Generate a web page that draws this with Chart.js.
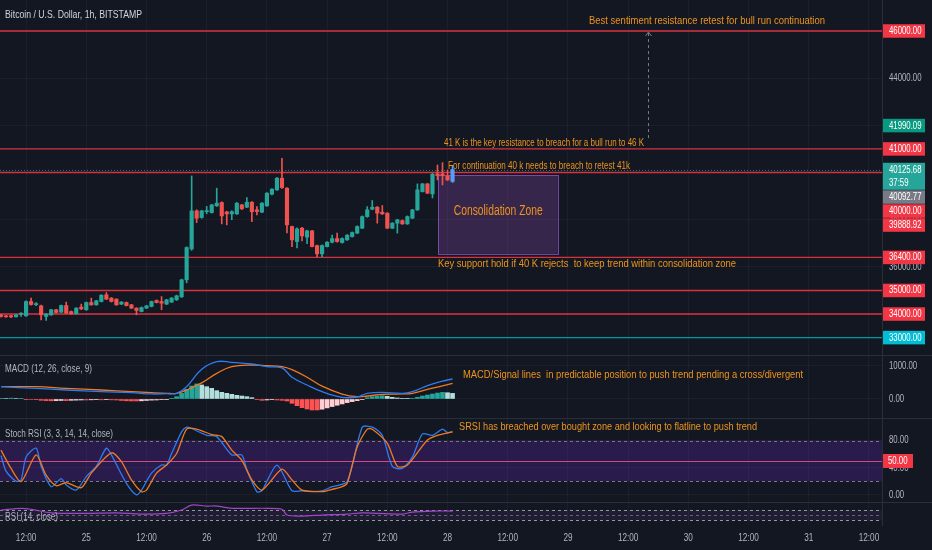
<!DOCTYPE html>
<html>
<head>
<meta charset="utf-8">
<title>BTCUSD 1h</title>
<script src="https://cdn.jsdelivr.net/npm/chart.js@4.4.1/dist/chart.umd.min.js"></script>
<style>
  html, body { margin: 0; padding: 0; background: #131722; overflow: hidden; }
  #wrap { position: relative; width: 932px; height: 550px; }
  #wrap canvas { position: absolute; left: 0; }
</style>
</head>
<body>
<div id="wrap">
  <canvas id="priceChart" width="932" height="355" style="top:0"></canvas>
  <canvas id="macdChart" width="932" height="63" style="top:355px"></canvas>
  <canvas id="stochChart" width="932" height="84" style="top:418px"></canvas>
  <canvas id="rsiChart" width="932" height="48" style="top:502px"></canvas>
</div>
<script>
// Години: 0 = 24-те 12:00, свічки погодинні
const firstHour = -5;

const candleOpen = [33966, 33924, 33930, 33882, 33990, 33924, 34530, 34400, 34347, 33900,
  33966, 34178, 34080, 34360, 34105, 34010, 34293, 34178, 34488, 34390,
  34530, 34815, 34675, 34630, 34420, 34488, 34390, 34250, 34105, 34250,
  34320, 34573, 34530, 34420, 34505, 34602, 34730, 35450, 36760, 38373,
  38090, 38340, 38300, 38585, 38725, 38330, 38245, 38245, 38627, 38530,
  38740, 38416, 38318, 38585, 39080, 39263, 39758, 39335, 37710, 37073,
  37640, 37260, 37526, 36902, 36551, 36860, 37045, 37200, 37030, 37145,
  37285, 37430, 37640, 38130, 38445, 38530, 38318, 38275, 37640, 37852,
  37960, 37822, 38065, 38416, 39190, 39517, 39093, 39940, 39940, 39856, 39620];
const candleClose = [33895, 33882, 33880, 33966, 34010, 34530, 34403, 34420, 33966, 33990,
  34178, 34065, 34360, 34040, 34010, 34250, 34220, 34488, 34390, 34560,
  34800, 34630, 34530, 34390, 34505, 34360, 34250, 34150, 34275, 34347,
  34530, 34488, 34460, 34602, 34675, 34772, 35450, 36820, 38373, 38060,
  38373, 38385, 38627, 38700, 38160, 38245, 38340, 38700, 38458, 38740,
  38340, 38345, 38700, 39123, 39292, 39758, 39360, 37780, 37145, 37610,
  37313, 37526, 36860, 36551, 36902, 37045, 37200, 37073, 37200, 37343,
  37455, 37710, 38130, 38416, 38530, 38275, 38245, 37640, 37852, 37992,
  37822, 38130, 38416, 39263, 39517, 39123, 39928, 39870, 39870, 39687, 40126];
const candleHigh = [33990, 33950, 33960, 33990, 34060, 34560, 34680, 34490, 34380, 34030,
  34200, 34200, 34380, 34505, 34130, 34270, 34420, 34510, 34674, 34580,
  34820, 34911, 34700, 34650, 34530, 34510, 34410, 34270, 34300, 34370,
  34550, 34600, 34740, 34620, 34700, 34800, 35480, 36850, 39856, 38420,
  38400, 38560, 38650, 39335, 38760, 38360, 38380, 38730, 38650, 38936,
  38770, 38560, 38720, 39150, 39320, 39800, 40605, 39360, 37730, 37650,
  37680, 37560, 37550, 36920, 36930, 37070, 37350, 37430, 37230, 37370,
  37480, 37740, 38160, 38555, 38810, 38560, 38600, 38300, 37880, 38020,
  37990, 38160, 38440, 39517, 39540, 39540, 39960, 40320, 40420, 40110, 40300];
const candleLow = [33870, 33860, 33850, 33870, 33895, 33900, 34380, 34350, 33755, 33730,
  33940, 34040, 34060, 34020, 33990, 33990, 34180, 34160, 34370, 34370,
  34510, 34610, 34510, 34370, 34400, 34340, 34230, 33966, 34090, 34230,
  34300, 34470, 34180, 34400, 34490, 34580, 34700, 35320, 36700, 37877,
  38060, 38250, 38280, 38560, 37822, 37780, 38000, 38220, 38430, 38510,
  37920, 38200, 38300, 38560, 39050, 39240, 39330, 37441, 36860, 36800,
  37100, 36980, 36840, 36424, 36430, 36840, 37020, 37050, 37000, 37120,
  37260, 37410, 37620, 38100, 38420, 37852, 38220, 37620, 37620, 37430,
  37800, 37800, 38040, 38390, 39170, 39100, 38920, 39687, 39475, 39660, 39580];

// MACD (12, 26, close, 9)
const macdHist = [20, 15, 25, 15, 20, -10, -15, -20, -40, -50,
  -55, -50, -45, -50, -40, -35, -30, -30, -25, -20,
  -25, -20, -25, -30, -45, -55, -60, -60, -55, -45,
  -35, -30, -20, -10, 20, 70, 170, 293, 394, 455,
  424, 373, 323, 252, 202, 172, 141, 111, 90, 70,
  40, -20, -40, -30, -20, -30, -40, -60, -131, -202,
  -263, -303, -333, -333, -310, -270, -230, -190, -150, -110,
  -80, -50, -20, 40, 70, 90, 100, 80, 50, 30,
  20, 10, 20, 50, 90, 120, 150, 180, 200, 190, 170];
const macdHours = [-5, 2, 8, 15, 21, 25, 28, 30, 32, 35, 38, 41, 45, 48, 51, 53, 56, 59, 63, 66, 68, 71, 75, 77, 80, 83, 85];
const macdLine = [373, 320, 273, 222, 192, 152, 160, 172, 373, 900, 1131, 1111, 1060, 980, 940, 660, 424, 222, 51, 60, 170, 202, 172, 222, 404, 540, 606];
const signalLine = [373, 373, 323, 273, 222, 190, 172, 172, 273, 490, 778, 980, 1030, 1010, 980, 890, 660, 390, 150, 70, 90, 141, 152, 172, 293, 400, 475];

// Stoch RSI (3, 3, 14, 14, close)
const stochKHours = [-5, -4, -2, -1, 0, 2, 3, 5, 7, 8, 10, 12, 14, 16, 17, 20, 22, 23, 25, 27, 28, 29, 31, 32, 33, 36, 38, 41, 43, 44, 46, 47, 50, 53, 55, 57, 59, 61, 64, 67, 69, 71, 73, 75, 77, 79, 81, 83, 84, 85];
const stochK = [58, 35, 20, 22, 56, 69, 42, 12, 24, 14.5, 7, 27, 42, 69, 59, 17, 0, 7, 32, 44, 44, 61, 93, 100, 98, 88, 86, 59, 59, 37, 4.5, 6, 44, 6, 6, 5, 6, 12, 19.5, 100, 100, 88, 42, 39, 56, 90, 88, 97, 92, 93];
const stochDHours = [-5, -3, -1, 2, 4, 6, 8, 11, 13, 17, 19, 21, 23, 24, 26, 28, 30, 32, 34, 37, 39, 41, 43, 45, 47, 51, 53, 55, 59, 60, 63, 64, 66, 68, 69, 72, 74, 76, 80, 82, 85];
const stochD = [66, 39, 19.5, 59, 29, 13.5, 18, 10.6, 32, 62, 49, 22, 4.6, 7, 32, 44, 61, 97, 97, 89, 86, 66, 51, 22, 7, 38, 22, 7, 4.6, 6, 12, 17, 71, 97, 97, 76, 42, 44, 81, 88, 93];

// RSI (14, close)
const rsiHours = [-5, -1, 1, 5, 12, 18, 23, 28, 31, 33, 36, 38, 41, 48, 51, 52, 55, 59, 64, 67, 70, 75, 77, 81, 85];
const rsiValues = [71, 78, 74, 60, 58, 60, 55, 58, 71, 91, 87, 87, 78, 78, 74, 51, 47, 51, 55, 60, 58, 55, 63, 67, 67];

// Осі
const timeTickHours = [0, 12, 24, 36, 48, 60, 72, 84, 96, 108, 120, 132, 144, 156, 168];
const timeTickLabels = ['12:00', '25', '12:00', '26', '12:00', '27', '12:00', '28', '12:00', '29', '12:00', '30', '12:00', '31', '12:00'];
const priceTicks = [34000, 36000, 38000, 40000, 42000, 44000, 46000];
const macdTicks = [0, 1000];
const stochTicks = [0, 40, 80];

// Рівні та позначки на шкалі
const levelPrices = [46000, 41000, 40000, 36400, 35000, 34000, 33000];
const axisLabelPrices = [46000, 41990.09, 41000, 40125.68, 40092.77, 40000, 39888.92, 36400, 35000, 34000, 33000];
const axisLabelKinds = ['red', 'teal', 'red', 'last', 'gray', 'red', 'red', 'red', 'red', 'red', 'cyan'];
const lastPrice = 40125.68;
const countdown = '37:59';
const zoneHours = [82.1, 106];
const zonePrices = [39888.92, 36550];
const arrowHour = 124;
const arrowPrices = [41460, 46000];

const X_MIN = -5.2, X_MAX = 170.6;
const GRID = 'rgba(42,46,57,0.4)';
const AXIS_TXT = '#b2b5be';
const ORANGE = '#ee941c';
const UP = '#26a69a', DOWN = '#ef5350', LAST = '#5b9cf6';
const LABEL_BG = { red: '#f23645', teal: '#089981', last: '#26a69a', gray: '#787b86', cyan: '#00bcd4' };
const FONT = '"Liberation Sans", Arial, sans-serif';

const candleHours = candleOpen.map((_, i) => firstHour + i);
const candleColors = candleOpen.map((o, i) =>
  i === candleOpen.length - 1 ? LAST : (candleClose[i] >= o ? UP : DOWN));
const histColors = macdHist.map((v, i) => {
  const p = i ? macdHist[i - 1] : 0;
  if (v >= 0) return v > p ? '#26a69a' : '#b2dfdb';
  return v > p ? '#ffcdd2' : '#ff5252';
});
const pts = (xs, ys) => xs.map((x, i) => ({ x: x, y: ys[i] }));

function drawText(ctx, s, x, y, size, color, opt) {
  opt = opt || {};
  ctx.save();
  ctx.font = size + 'px ' + FONT;
  ctx.fillStyle = color;
  ctx.textAlign = opt.align || 'left';
  ctx.textBaseline = 'middle';
  const natural = ctx.measureText(s).width;
  ctx.fillText(s, x, y, opt.width || natural * (opt.squeeze || 0.78));
  ctx.restore();
}

function hLine(chart, v, color, dash, width, snap) {
  const { ctx, chartArea: a, scales: { y } } = chart;
  let py = y.getPixelForValue(v);
  if (snap !== false) py = Math.round(py) + 0.5;
  ctx.save();
  ctx.strokeStyle = color;
  ctx.lineWidth = width || 1;
  ctx.setLineDash(dash || []);
  ctx.beginPath();
  ctx.moveTo(a.left, py);
  ctx.lineTo(a.right, py);
  ctx.stroke();
  ctx.restore();
}

function yTickLabels(chart) {
  const s = chart.scales.y;
  s.ticks.forEach(t => drawText(chart.ctx, t.value.toFixed(2), s.left + 7, s.getPixelForValue(t.value), 10, AXIS_TXT));
}

function topSeparator(chart) {
  const ctx = chart.ctx;
  ctx.save();
  ctx.strokeStyle = '#2a2e39';
  ctx.lineWidth = 1;
  ctx.beginPath();
  ctx.moveTo(0, 0.5);
  ctx.lineTo(chart.width, 0.5);
  ctx.stroke();
  ctx.restore();
}

function panelOptions(yMin, yMax, yTicks, showTime) {
  return {
    responsive: false,
    animation: false,
    events: [],
    layout: { padding: 0 },
    plugins: { legend: { display: false }, tooltip: { enabled: false } },
    scales: {
      x: {
        type: 'linear', min: X_MIN, max: X_MAX, offset: false,
        afterBuildTicks: s => { s.ticks = timeTickHours.map(v => ({ value: v })); },
        ticks: { display: false },
        grid: { color: GRID, drawTicks: false, offset: false },
        border: { display: false },
        afterFit: s => { s.height = showTime ? 25 : 0; }
      },
      y: {
        type: 'linear', position: 'right', min: yMin, max: yMax,
        afterBuildTicks: s => { s.ticks = yTicks.map(v => ({ value: v })); },
        ticks: { display: false },
        grid: { color: GRID, drawTicks: false },
        border: { display: true, color: '#2a2e39' },
        afterFit: s => { s.width = 50; }
      }
    }
  };
}

// Головна панель
const pricePlugin = {
  id: 'priceOverlay',
  beforeDatasetsDraw(chart) {
    const { ctx, scales: { x, y } } = chart;
    // зона консолідації
    const zx1 = x.getPixelForValue(zoneHours[0]), zx2 = x.getPixelForValue(zoneHours[1]);
    const zy1 = y.getPixelForValue(zonePrices[0]), zy2 = y.getPixelForValue(zonePrices[1]);
    ctx.save();
    ctx.fillStyle = 'rgba(139,73,171,0.3)';
    ctx.fillRect(zx1, zy1, zx2 - zx1, zy2 - zy1);
    ctx.strokeStyle = 'rgba(150,85,200,0.75)';
    ctx.lineWidth = 1;
    ctx.strokeRect(Math.round(zx1) + 0.5, Math.round(zy1) + 0.5, Math.round(zx2 - zx1), Math.round(zy2 - zy1));
    ctx.restore();
    // рівні
    levelPrices.forEach((v, i) => {
      hLine(chart, v, i === levelPrices.length - 1 ? '#0097a7' : '#d8323f', null, 1.4, false);
    });
    hLine(chart, lastPrice, 'rgba(38,166,154,0.7)', [1, 2]);
    // пунктирна стрілка до 46K
    const ax = Math.round(x.getPixelForValue(arrowHour)) + 0.5;
    const ay1 = y.getPixelForValue(arrowPrices[0]), ay2 = y.getPixelForValue(arrowPrices[1]) + 1;
    ctx.save();
    ctx.strokeStyle = '#787b86';
    ctx.lineWidth = 1;
    ctx.setLineDash([3, 3]);
    ctx.beginPath();
    ctx.moveTo(ax, ay1);
    ctx.lineTo(ax, ay2);
    ctx.stroke();
    ctx.setLineDash([]);
    ctx.beginPath();
    ctx.moveTo(ax - 3, ay2 + 4);
    ctx.lineTo(ax, ay2);
    ctx.lineTo(ax + 3, ay2 + 4);
    ctx.stroke();
    ctx.restore();
  },
  afterDatasetsDraw(chart) {
    const { ctx, scales: { x, y } } = chart;
    const note = (s, h, v, w) => drawText(ctx, s, x.getPixelForValue(h), y.getPixelForValue(v), 11.5, ORANGE, { width: w });
    note('Best sentiment resistance retest for bull run continuation', 112.2, 46437, 236);
    note('41 K is the key resistance to breach for a bull run to 46 K', 83.3, 41239, 200);
    note('For continuation 40 k needs to breach to retest 41k', 84.1, 40289, 182);
    note('Key support hold if 40 K rejects  to keep trend within consolidation zone', 82.1, 36108, 298);
    drawText(ctx, 'Consolidation Zone', x.getPixelForValue(94.1), y.getPixelForValue(38368), 14, ORANGE, { align: 'center', width: 89 });
  },
  afterDraw(chart) {
    const { ctx, scales: { y } } = chart;
    drawText(ctx, 'Bitcoin / U.S. Dollar, 1h, BITSTAMP', 5, 14.5, 11.5, '#d1d4dc', { width: 137 });
    yTickLabels(chart);
    // кольорові позначки на шкалі цін, зсунуті щоб не перекривались
    const items = axisLabelPrices.map((v, i) => ({ v: v, kind: axisLabelKinds[i], py: y.getPixelForValue(v) }))
      .sort((a, b) => a.py - b.py);
    let bottom = -Infinity;
    items.forEach(it => {
      const h = it.kind === 'last' ? 27 : 13.5;
      const top = Math.max(it.py - 6.75, bottom + 0.5);
      bottom = top + h;
      ctx.fillStyle = LABEL_BG[it.kind];
      ctx.fillRect(y.left + 1, top, 42, h);
      drawText(ctx, it.v.toFixed(2), y.left + 7, top + 7, 10, '#ffffff');
      if (it.kind === 'last') drawText(ctx, countdown, y.left + 7, top + 20.5, 10, '#ffffff');
    });
  }
};

new Chart(document.getElementById('priceChart'), {
  type: 'bar',
  data: {
    datasets: [
      {
        data: candleHours.map((h, i) => ({ x: h, y: [candleLow[i], candleHigh[i]] })),
        backgroundColor: candleColors, barThickness: 1, grouped: false, borderWidth: 0, order: 2
      },
      {
        data: candleHours.map((h, i) => ({ x: h, y: [candleOpen[i], candleClose[i]] })),
        backgroundColor: candleColors, barThickness: 3.5, minBarLength: 1, grouped: false, borderWidth: 0, order: 1
      }
    ]
  },
  options: panelOptions(32263, 47314, priceTicks, false),
  plugins: [pricePlugin]
});

// MACD
new Chart(document.getElementById('macdChart'), {
  type: 'bar',
  data: {
    datasets: [
      { type: 'bar', data: pts(candleHours, macdHist), backgroundColor: histColors, barThickness: 4, grouped: false, borderWidth: 0, order: 3 },
      { type: 'line', data: pts(macdHours, signalLine), borderColor: '#f07a22', borderWidth: 1.3, pointRadius: 0, tension: 0.4, order: 2 },
      { type: 'line', data: pts(macdHours, macdLine), borderColor: '#2f7bf0', borderWidth: 1.3, pointRadius: 0, tension: 0.4, order: 1 }
    ]
  },
  options: panelOptions(-576, 1333, macdTicks, false),
  plugins: [{
    id: 'macdOverlay',
    afterDraw(chart) {
      const { ctx, scales: { x, y } } = chart;
      topSeparator(chart);
      drawText(ctx, 'MACD (12, 26, close, 9)', 5, 14, 10.5, AXIS_TXT, { width: 87 });
      drawText(ctx, 'MACD/Signal lines  in predictable position to push trend pending a cross/divergent',
        x.getPixelForValue(87.1), y.getPixelForValue(727), 11.5, ORANGE, { width: 340 });
      yTickLabels(chart);
    }
  }]
});

// Stoch RSI
new Chart(document.getElementById('stochChart'), {
  type: 'line',
  data: {
    datasets: [
      { data: pts(stochDHours, stochD), borderColor: '#f07a22', borderWidth: 1.3, pointRadius: 0, tension: 0.25 },
      { data: pts(stochKHours, stochK), borderColor: '#2f7bf0', borderWidth: 1.3, pointRadius: 0, tension: 0.25 }
    ]
  },
  options: panelOptions(-10.6, 113.5, stochTicks, false),
  plugins: [{
    id: 'stochOverlay',
    beforeDatasetsDraw(chart) {
      const { ctx, chartArea: a, scales: { y } } = chart;
      const y80 = y.getPixelForValue(80), y20 = y.getPixelForValue(20);
      ctx.fillStyle = 'rgba(103,40,190,0.28)';
      ctx.fillRect(a.left, y80, a.right - a.left, y20 - y80);
      hLine(chart, 80, '#787b86', [3, 3]);
      hLine(chart, 20, '#787b86', [3, 3]);
      hLine(chart, 50, '#d5467a');
    },
    afterDraw(chart) {
      const { ctx, scales: { x, y } } = chart;
      topSeparator(chart);
      drawText(ctx, 'Stoch RSI (3, 3, 14, 14, close)', 5, 16, 10.5, AXIS_TXT, { width: 108 });
      drawText(ctx, 'SRSI has breached over bought zone and looking to flatline to push trend',
        x.getPixelForValue(86.3), y.getPixelForValue(99.8), 11.5, ORANGE, { width: 298 });
      yTickLabels(chart);
      const py = y.getPixelForValue(50);
      ctx.fillStyle = LABEL_BG.red;
      ctx.fillRect(y.left + 1, py - 7, 30, 14);
      drawText(ctx, '50.00', y.left + 6, py, 10, '#ffffff');
    }
  }]
});

// RSI + шкала часу
new Chart(document.getElementById('rsiChart'), {
  type: 'line',
  data: {
    datasets: [
      { data: pts(rsiHours, rsiValues), borderColor: '#a245c9', borderWidth: 1.2, pointRadius: 0, tension: 0.3 }
    ]
  },
  options: panelOptions(11.2, 103.2, [], true),
  plugins: [{
    id: 'rsiOverlay',
    beforeDatasetsDraw(chart) {
      const { ctx, chartArea: a, scales: { y } } = chart;
      const y70 = y.getPixelForValue(70), y30 = y.getPixelForValue(30);
      ctx.fillStyle = 'rgba(126,87,194,0.1)';
      ctx.fillRect(a.left, y70, a.right - a.left, y30 - y70);
      hLine(chart, 70, '#9598a1', [3, 3]);
      hLine(chart, 50, '#6c5a8a', [3, 3]);
      hLine(chart, 30, '#9598a1', [3, 3]);
    },
    afterDraw(chart) {
      const { ctx, chartArea: a, scales: { x } } = chart;
      topSeparator(chart);
      drawText(ctx, 'RSI (14, close)', 5, 15, 10.5, AXIS_TXT, { width: 53 });
      timeTickHours.forEach((h, i) => {
        drawText(ctx, timeTickLabels[i], x.getPixelForValue(h), a.bottom + 13, 10.5, AXIS_TXT, { align: 'center' });
      });
    }
  }]
});
</script>
</body>
</html>
